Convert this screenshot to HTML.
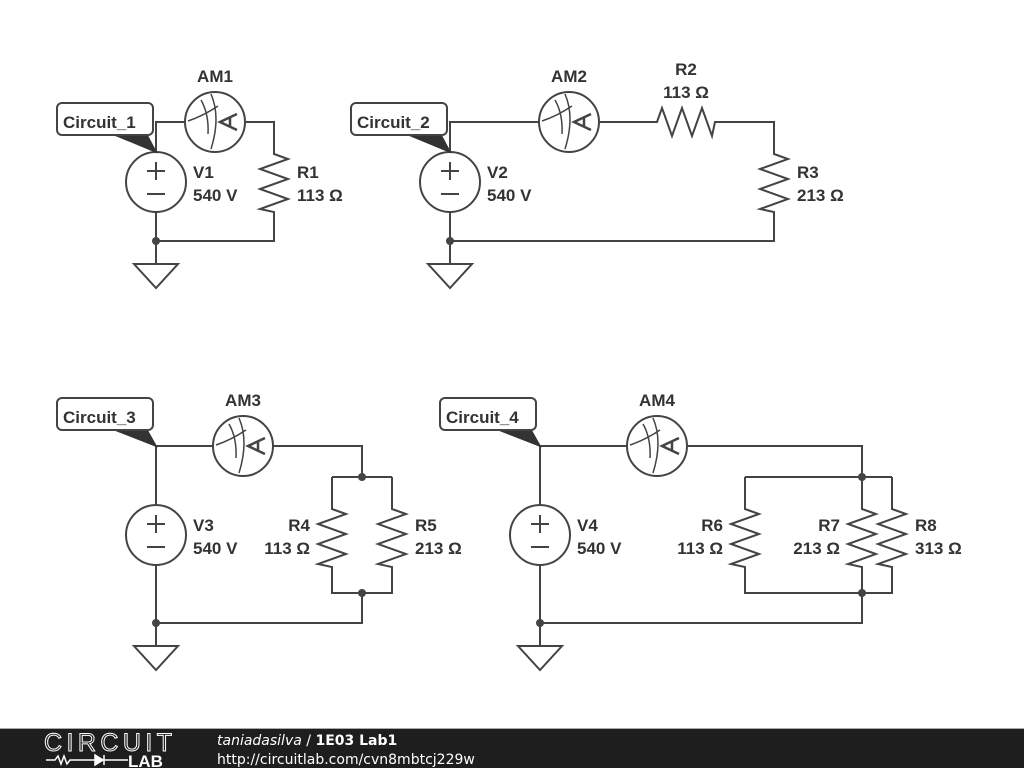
<!DOCTYPE html>
<html><head><meta charset="utf-8"><style>
body{margin:0;width:1024px;height:768px;background:#fff;overflow:hidden}
svg{position:absolute;left:0;top:0}
.t{font-family:"Liberation Sans",Arial,sans-serif;font-size:17px;font-weight:bold;fill:#333}
.f{font-family:"DejaVu Sans",sans-serif;font-size:14px;fill:#fff}
</style></head><body>
<svg width="1024" height="768" viewBox="0 0 1024 768">
<defs>
<g id="rv"><path d="M0 0 L0 5 L14 10 L-14 20 L14 30 L-14 40 L14 50 L-14 60 L0 63 L0 66" fill="none"/></g>
<g id="vs"><circle r="30" fill="#fff"/><path d="M-9 -11 H9 M0 -20 V-2 M-9 12 H9" fill="none"/></g>
<g id="am"><circle r="30" fill="#fff"/><path d="M-27 -1 Q-12 -6 3 -16 M-14 -22 Q-6 -8 -7 12 M-4 -28 Q6 -5 -4 27" fill="none" stroke-width="1.5"/><path d="M22 -8 L5 0 L22 8 M15 -5 V5" fill="none" stroke-width="2.5"/></g>
<g id="gnd"><path d="M0 0 V23 M-22 23 H22 L0 47 Z" fill="#fff"/></g>
</defs>
<g stroke="#444" stroke-width="2" fill="none">
<path d="M156 152 V122 H185 M245 122 H274 V149 M274 215 V241 H156 V212 M156 241 V264"/>
<use href="#rv" x="274" y="149"/>
<use href="#vs" x="156" y="182"/>
<use href="#am" x="215" y="122"/>
<use href="#gnd" x="156" y="241"/>
<path d="M450 152 V122 H539 M599 122 H652 M718 122 H774 V149 M774 215 V241 H450 V212"/>
<g transform="translate(652 122) rotate(-90)"><use href="#rv"/></g>
<use href="#rv" x="774" y="149"/>
<use href="#vs" x="450" y="182"/>
<use href="#am" x="569" y="122"/>
<use href="#gnd" x="450" y="241"/>
<path d="M156 505 V446 H213 M273 446 H362 V477 M332 477 H392 M332 477 V504 M392 477 V504 M332 570 V593 H392 V570 M362 593 V623 H156 V565"/>
<use href="#rv" x="332" y="504"/>
<use href="#rv" x="392" y="504"/>
<use href="#vs" x="156" y="535"/>
<use href="#am" x="243" y="446"/>
<use href="#gnd" x="156" y="623"/>
<path d="M540 505 V446 H627 M687 446 H862 V477 M745 477 H892 M745 477 V504 M862 477 V504 M892 477 V504 M745 570 V593 H892 V570 M862 570 V593 M862 593 V623 H540 V565"/>
<use href="#rv" x="745" y="504"/>
<use href="#rv" x="862" y="504"/>
<use href="#rv" x="892" y="504"/>
<use href="#vs" x="540" y="535"/>
<use href="#am" x="657" y="446"/>
<use href="#gnd" x="540" y="623"/>
</g>
<g fill="#444">
<circle cx="156" cy="241" r="4"/><circle cx="450" cy="241" r="4"/>
<circle cx="362" cy="477" r="4"/><circle cx="362" cy="593" r="4"/><circle cx="156" cy="623" r="4"/>
<circle cx="862" cy="477" r="4"/><circle cx="862" cy="593" r="4"/><circle cx="540" cy="623" r="4"/>
</g>
<g fill="#333" stroke="#333" stroke-width="1.5">
<path d="M115 135 L156 152 L147 135 Z"/>
<path d="M409 135 L450 152 L441 135 Z"/>
<path d="M115 430 L156 446 L147 430 Z"/>
<path d="M499 430 L540 446 L531 430 Z"/>
</g>
<g fill="#fff" stroke="#444" stroke-width="2">
<rect x="57" y="103" width="96" height="32" rx="5"/>
<rect x="351" y="103" width="96" height="32" rx="5"/>
<rect x="57" y="398" width="96" height="32" rx="5"/>
<rect x="440" y="398" width="96" height="32" rx="5"/>
</g>
<g class="t">
<text class="t" x="63" y="128">Circuit_1</text>
<text class="t" x="357" y="128">Circuit_2</text>
<text class="t" x="63" y="423">Circuit_3</text>
<text class="t" x="446" y="423">Circuit_4</text>
<g text-anchor="middle">
<text class="t" x="215" y="82">AM1</text><text class="t" x="569" y="82">AM2</text>
<text class="t" x="243" y="406">AM3</text><text class="t" x="657" y="406">AM4</text>
<text class="t" x="686" y="75">R2</text><text class="t" x="686" y="98">113 Ω</text>
</g>
<text class="t" x="193" y="178">V1</text><text class="t" x="193" y="201">540 V</text>
<text class="t" x="297" y="178">R1</text><text class="t" x="297" y="201">113 Ω</text>
<text class="t" x="487" y="178">V2</text><text class="t" x="487" y="201">540 V</text>
<text class="t" x="797" y="178">R3</text><text class="t" x="797" y="201">213 Ω</text>
<text class="t" x="193" y="531">V3</text><text class="t" x="193" y="554">540 V</text>
<text class="t" x="577" y="531">V4</text><text class="t" x="577" y="554">540 V</text>
<text class="t" x="415" y="531">R5</text><text class="t" x="415" y="554">213 Ω</text>
<text class="t" x="915" y="531">R8</text><text class="t" x="915" y="554">313 Ω</text>
<g text-anchor="end">
<text class="t" x="310" y="531">R4</text><text class="t" x="310" y="554">113 Ω</text>
<text class="t" x="723" y="531">R6</text><text class="t" x="723" y="554">113 Ω</text>
<text class="t" x="840" y="531">R7</text><text class="t" x="840" y="554">213 Ω</text>
</g>
</g>
<rect x="0" y="729" width="1024" height="39" fill="#1e1e1e"/>
<rect x="0" y="728" width="1024" height="1" fill="#aaa"/>
<text x="44" y="751" style="font-family:'Liberation Sans',sans-serif;font-size:25px" fill="none" stroke="#fff" stroke-width="1" textLength="128">CIRCUIT</text>
<path d="M46 760 H55 L58 756 L61 764 L64 756 L67 764 L70 760 H82 M82 760 H95" stroke="#fff" stroke-width="1.5" fill="none"/>
<path d="M95 755 L103 760 L95 765 Z M104 755 V765 M104 760 H128" stroke="#fff" fill="#fff" stroke-width="1.5"/>
<text x="128" y="767" style="font-family:'Liberation Sans',sans-serif;font-size:17px;font-weight:bold" fill="#fff">LAB</text>
<text class="f" x="217" y="745"><tspan font-style="italic">taniadasilva</tspan> / <tspan font-weight="bold">1E03 Lab1</tspan></text>
<text class="f" x="217" y="764">http://circuitlab.com/cvn8mbtcj229w</text>
</svg>
</body></html>
